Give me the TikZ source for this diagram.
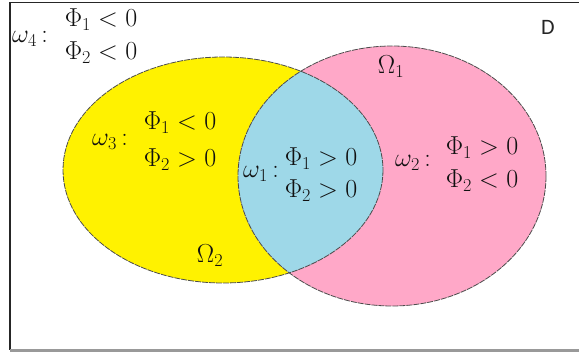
\RequirePackage{fix-cm}
\documentclass[tikz,border=0pt]{standalone}
\usepackage{amsmath}
\usepackage{fontspec}
\newfontfamily\carlito{Carlito}
\definecolor{vyellow}{HTML}{FFF200}
\definecolor{vpink}{HTML}{FFA8C8}
\definecolor{vblue}{HTML}{9ED8E8}
\definecolor{vtext}{HTML}{111111}
\begin{document}
\begin{tikzpicture}[x=1pt,y=-1pt,
  lbl/.style={inner sep=0pt,text=vtext,font=\fontsize{26}{30}\selectfont},
  outline/.style={draw=black!70,line width=0.8pt,dash pattern=on 6pt off 1pt}]
\useasboundingbox (0,0) rectangle (579,352);
% ellipses
\fill[vyellow] (223,170) ellipse [x radius=160,y radius=113];
\fill[vpink] (392,176) ellipse [x radius=154,y radius=130];
\begin{scope}
  \clip (223,170) ellipse [x radius=160,y radius=113];
  \fill[vblue] (392,176) ellipse [x radius=154,y radius=130];
\end{scope}
\draw[outline] (223,170) ellipse [x radius=160,y radius=113];
\draw[outline] (392,176) ellipse [x radius=154,y radius=130];
% frame
\draw[line width=1.3pt,black!85] (10,350) -- (10,2.5) -- (590,2.5);
\draw[line width=2.8pt,black!40] (10,350.5) -- (590,350.5);
% labels
\node[lbl,text=black!85,font=\fontsize{22}{26}\selectfont\carlito] (D) at (548,27) {D};
\node[lbl] (O1) at (391,67) {$\Omega_1$};
\node[lbl] (O2) at (210,256) {$\Omega_2$};
\node[lbl] (w4) at (30,39) {$\omega_4$\,:};
\node[lbl] (c4a) at (101,20) {$\Phi_1 < 0$};
\node[lbl] (c4b) at (101,53) {$\Phi_2 < 0$};
\node[lbl] (w3) at (110,142) {$\omega_3$\,:};
\node[lbl] (c3a) at (180,123) {$\Phi_1 < 0$};
\node[lbl] (c3b) at (180,160) {$\Phi_2 > 0$};
\node[lbl] (w1) at (261,174) {$\omega_1$\,:};
\node[lbl] (c1a) at (321,159) {$\Phi_1 > 0$};
\node[lbl] (c1b) at (321,191) {$\Phi_2 > 0$};
\node[lbl] (w2) at (413,163) {$\omega_2$\,:};
\node[lbl] (c2a) at (482,148) {$\Phi_1 > 0$};
\node[lbl] (c2b) at (482,181) {$\Phi_2 < 0$};
\end{tikzpicture}
\end{document}
